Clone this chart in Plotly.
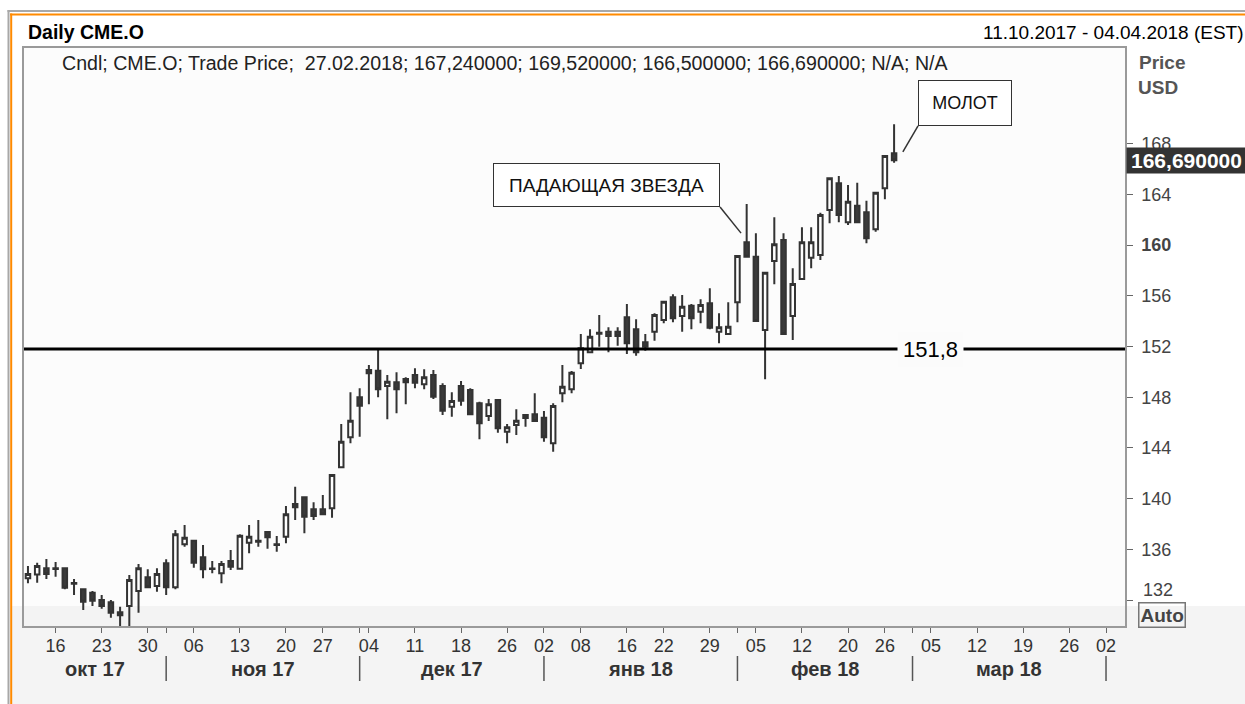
import pandas as pd
import plotly.graph_objects as go

# trading calendar on the axis (exchange holidays removed)
holidays = ["2017-11-23", "2017-12-25", "2018-01-01", "2018-01-15", "2018-02-19", "2018-03-30"]
days = [d.strftime("%Y-%m-%d") for d in pd.bdate_range("2017-10-11", "2018-04-04")]
days = [d for d in days if d not in holidays]
day_pos = {d: i for i, d in enumerate(days)}

# daily candles CME.O, 11.10.2017 - 27.02.2018
dates = days[:95]
opens = [133.72, 134.03, 134.51, 134.52, 134.51, 133.35, 132.85, 132.58, 132.01, 131.83,
         131.04, 131.53, 132.72, 133.80, 133.11, 134.90, 133.01, 136.40, 136.68, 135.38,
         134.50, 134.11, 135.08, 134.48, 136.53, 136.68, 137.37, 136.40, 137.00, 139.58,
         140.11, 139.16, 139.16, 139.24, 142.47, 144.84, 147.99, 150.15, 150.09, 148.88,
         149.18, 149.44, 149.75, 149.02, 149.75, 148.88, 147.25, 148.88, 148.57, 147.52,
         146.52, 147.78, 145.28, 145.81, 146.60, 146.65, 146.38, 144.37, 148.31, 148.62,
         150.68, 151.54, 153.08, 153.17, 153.17, 154.30, 153.36, 152.33, 153.17, 154.09,
         155.88, 154.41, 155.22, 154.74, 155.41, 153.17, 152.99, 155.49, 160.22, 159.08,
         153.30, 158.74, 160.40, 154.41, 157.32, 159.00, 159.22, 162.77, 164.87, 161.79,
         163.10, 162.58, 161.24, 164.48, 167.24]
highs = [134.69, 134.95, 135.24, 135.00, 134.55, 133.66, 132.90, 132.72, 132.40, 132.01,
         131.48, 133.98, 134.85, 134.43, 134.51, 135.22, 137.53, 137.92, 136.75, 136.35,
         135.08, 135.08, 135.95, 137.19, 137.92, 138.32, 137.40, 137.06, 139.42, 140.94,
         140.15, 139.71, 140.29, 141.95, 145.89, 148.39, 148.70, 150.54, 151.78, 149.75,
         149.97, 149.57, 150.28, 150.20, 150.15, 149.10, 148.39, 149.28, 148.70, 147.65,
         147.86, 147.85, 145.89, 147.05, 146.62, 148.31, 146.91, 147.52, 150.54, 150.07,
         152.99, 153.36, 154.48, 153.51, 153.51, 155.35, 154.15, 152.99, 154.62, 155.60,
         156.12, 156.06, 155.35, 155.72, 156.59, 154.62, 155.49, 159.20, 163.24, 160.93,
         157.85, 162.19, 160.93, 158.17, 161.40, 161.40, 162.55, 165.30, 165.45, 164.74,
         164.92, 163.50, 164.15, 167.10, 169.52]
lows = [133.33, 133.37, 133.66, 133.85, 132.85, 132.40, 131.22, 131.53, 131.32, 130.61,
        129.70, 129.70, 131.00, 132.95, 132.67, 132.40, 132.85, 136.21, 134.56, 133.72,
        134.11, 133.33, 134.37, 134.43, 135.69, 136.21, 136.05, 135.82, 136.48, 138.32,
        137.27, 138.32, 138.74, 138.50, 142.40, 144.37, 144.89, 147.44, 147.99, 146.26,
        146.73, 147.44, 148.70, 148.62, 147.86, 146.60, 146.46, 147.33, 146.60, 144.68,
        146.12, 145.20, 144.37, 145.02, 145.68, 146.10, 144.49, 143.70, 147.60, 148.31,
        150.23, 151.46, 151.98, 151.54, 152.06, 151.41, 151.27, 151.67, 152.46, 153.83,
        153.91, 153.17, 153.36, 153.83, 153.36, 152.25, 152.95, 153.91, 159.05, 153.95,
        149.41, 156.91, 152.95, 152.51, 157.30, 158.17, 158.82, 161.72, 161.79, 161.58,
        161.75, 160.14, 161.05, 163.61, 166.50]
closes = [134.06, 134.69, 134.06, 134.46, 132.98, 133.30, 131.87, 131.95, 131.53, 131.00,
          130.80, 133.58, 134.51, 133.01, 134.06, 133.01, 137.19, 136.92, 134.95, 134.43,
          134.45, 134.85, 134.63, 137.08, 137.00, 136.60, 136.95, 136.35, 138.77, 139.32,
          138.58, 138.63, 138.77, 141.87, 144.49, 146.15, 147.33, 149.89, 148.62, 149.22,
          148.62, 149.18, 149.15, 149.57, 148.04, 146.94, 147.70, 147.73, 146.65, 145.94,
          147.44, 145.55, 145.63, 146.15, 146.36, 146.12, 144.84, 147.31, 148.83, 149.93,
          151.86, 152.77, 153.00, 152.83, 152.83, 152.25, 151.54, 151.98, 154.48, 155.53,
          154.22, 155.14, 154.22, 155.27, 153.48, 153.51, 153.56, 159.14, 159.08, 154.01,
          157.82, 160.06, 152.99, 156.93, 160.22, 160.22, 162.37, 165.27, 162.37, 163.42,
          161.79, 160.53, 164.13, 167.02, 166.69]

tick_dates = ["2017-10-16", "2017-10-23", "2017-10-30", "2017-11-06", "2017-11-13",
              "2017-11-20", "2017-11-27", "2017-12-04", "2017-12-11", "2017-12-18",
              "2017-12-26", "2018-01-02", "2018-01-08", "2018-01-16", "2018-01-22",
              "2018-01-29", "2018-02-05", "2018-02-12", "2018-02-20", "2018-02-26",
              "2018-03-05", "2018-03-12", "2018-03-19", "2018-03-26", "2018-04-02"]
month_starts = ["2017-11-01", "2017-12-01", "2018-01-02", "2018-02-01", "2018-03-01", "2018-04-02"]
month_labels = ["окт 17", "ноя 17", "дек 17", "янв 18", "фев 18", "мар 18"]
y_ticks = [132, 136, 140, 144, 148, 152, 156, 160, 164, 168]

level = 151.8

# page geometry (pixels) -> paper coordinates
W, H = 1245, 704
L, R, T, B = 24, 1125, 48, 626
x_range = [-0.43, 119.06]
y_range = [129.96, 175.54]


def px(x):
    return (x - L) / (R - L)


def py(y):
    return (B - y) / (B - T)


FONT = "Liberation Sans"

fig = go.Figure()
fig.add_trace(go.Candlestick(
    x=[day_pos[d] for d in dates], open=opens, high=highs, low=lows, close=closes,
    increasing=dict(line=dict(color="#333333", width=2), fillcolor="#ffffff"),
    decreasing=dict(line=dict(color="#333333", width=2), fillcolor="#3a3a3a"),
    whiskerwidth=0, hoverinfo="skip", showlegend=False,
))

# ticks: weekly labels + unlabeled month boundary ticks
tickvals, ticktext = [], []
for d in tick_dates:
    tickvals.append(day_pos[d])
    ticktext.append(d[8:10])
for d in month_starts:
    if day_pos[d] not in tickvals:
        tickvals.append(day_pos[d])
        ticktext.append("")

# y labels: 160 in bold, the lowest one is lifted above the "Auto" box
y_text = []
for v in y_ticks:
    if v == y_ticks[0]:
        y_text.append("")
    elif v == 160:
        y_text.append(f"<b>{v}</b>")
    else:
        y_text.append(str(v))

shapes = []
annotations = []

# background pieces and the orange panel frame
shapes.append(dict(type="rect", xref="paper", yref="paper", x0=px(12), x1=px(W), y0=py(H), y1=py(606),
                   fillcolor="#f4f4f4", line=dict(width=0), layer="below"))
shapes.append(dict(type="rect", xref="x domain", yref="y domain", x0=0, x1=1, y0=0, y1=py(606),
                   fillcolor="#f3f3f3", line=dict(width=0), layer="below"))
shapes.append(dict(type="line", xref="paper", yref="paper", x0=px(7.5), x1=px(W), y0=py(11), y1=py(11),
                   line=dict(color="#a8a8a8", width=2)))
shapes.append(dict(type="line", xref="paper", yref="paper", x0=px(8.5), x1=px(8.5), y0=py(10), y1=py(H),
                   line=dict(color="#a8a8a8", width=2)))
shapes.append(dict(type="line", xref="paper", yref="paper", x0=px(10), x1=px(W), y0=py(14.5), y1=py(14.5),
                   line=dict(color="#ff8a00", width=2)))
shapes.append(dict(type="line", xref="paper", yref="paper", x0=px(11.2), x1=px(11.2), y0=py(13.5), y1=py(H),
                   line=dict(color="#ff8a00", width=2)))

# resistance level
shapes.append(dict(type="line", xref="x domain", yref="y", x0=0, x1=1, y0=level, y1=level,
                   line=dict(color="#000000", width=3)))
annotations.append(dict(x=97.9, y=level, xref="x", yref="y", text=f"{level}".replace(".", ","),
                        showarrow=False, font=dict(size=22, color="#000000"),
                        bgcolor="#fbfbfb", borderpad=5))

# month separators and labels
bounds = [x_range[0]] + [day_pos[d] for d in month_starts]
for d in month_starts:
    shapes.append(dict(type="line", xref="x", yref="paper", x0=day_pos[d], x1=day_pos[d],
                       y0=py(656), y1=py(681), line=dict(color="#555555", width=1.5)))
for i, lab in enumerate(month_labels):
    annotations.append(dict(x=(bounds[i] + bounds[i + 1]) / 2, y=py(669), xref="x", yref="paper",
                            yanchor="middle", text=f"<b>{lab}</b>", showarrow=False,
                            font=dict(size=20, color="#333333")))

# candle pattern callouts
star_x, star_y = 75.11, 163.0
shapes.append(dict(type="line", xref="x", yref="y", x0=star_x, y0=star_y, x1=77.39, y1=160.94,
                   line=dict(color="#333333", width=1.5)))
annotations.append(dict(x=star_x, y=star_y, xref="x", yref="y", xanchor="right", yanchor="bottom",
                        text="ПАДАЮЩАЯ ЗВЕЗДА", showarrow=False, font=dict(size=19, color="#111111"),
                        width=209, height=26, bgcolor="#ffffff", bordercolor="#333333",
                        borderwidth=1, borderpad=8))
ham_x, ham_y = 96.6, 169.39
shapes.append(dict(type="line", xref="x", yref="y", x0=ham_x, y0=ham_y, x1=94.95, y1=167.34,
                   line=dict(color="#333333", width=1.5)))
annotations.append(dict(x=ham_x, y=ham_y, xref="x", yref="y", xanchor="left", yanchor="bottom",
                        text="МОЛОТ", showarrow=False, font=dict(size=18, color="#111111"),
                        width=76, height=28, bgcolor="#ffffff", bordercolor="#333333",
                        borderwidth=1, borderpad=8))

# header texts
annotations.append(dict(x=px(26), y=py(32), xref="paper", yref="paper", xanchor="left", yanchor="middle",
                        text="<b>Daily CME.O</b>", showarrow=False, font=dict(size=19.5, color="#000000")))
annotations.append(dict(x=px(1246), y=py(32), xref="paper", yref="paper", xanchor="right", yanchor="middle",
                        text=f"{pd.Timestamp(days[0]):%d.%m.%Y} - {pd.Timestamp(days[-1]):%d.%m.%Y} (EST)",
                        showarrow=False, font=dict(size=19, color="#000000")))


def fmt(v):
    return f"{v:.6f}".replace(".", ",")


last = pd.Timestamp(dates[-1])
info = (f"Cndl; CME.O; Trade Price;  {last:%d.%m.%Y}; {fmt(opens[-1])}; {fmt(highs[-1])}; "
        f"{fmt(lows[-1])}; {fmt(closes[-1])}; N/A; N/A")
annotations.append(dict(x=px(60), y=py(63), xref="paper", yref="paper", xanchor="left", yanchor="middle",
                        text=info, showarrow=False, font=dict(size=19.6, color="#222222")))
annotations.append(dict(x=px(1137), y=py(62), xref="paper", yref="paper", xanchor="left", yanchor="middle",
                        text="<b>Price</b>", showarrow=False, font=dict(size=19, color="#555555")))
annotations.append(dict(x=px(1136), y=py(87), xref="paper", yref="paper", xanchor="left", yanchor="middle",
                        text="<b>USD</b>", showarrow=False, font=dict(size=19, color="#555555")))
annotations.append(dict(x=px(1126), y=closes[-1], xref="paper", yref="y", xanchor="left", yanchor="middle",
                        text=f"<b>{fmt(closes[-1])}</b>", showarrow=False, width=117, align="center",
                        font=dict(size=21, color="#ffffff"), bgcolor="#333333", borderpad=1))
annotations.append(dict(x=px(1141), y=py(590), xref="paper", yref="paper", xanchor="left", yanchor="middle",
                        text=str(y_ticks[0]), showarrow=False, font=dict(size=18, color="#444444")))
annotations.append(dict(x=px(1138), y=py(615), xref="paper", yref="paper", xanchor="left", yanchor="middle",
                        text="<b>Auto</b>", showarrow=False, font=dict(size=19, color="#444444"),
                        bordercolor="#777777", borderwidth=1.5, borderpad=1))

fig.update_layout(
    width=W, height=H,
    margin=dict(l=L, r=W - R, t=T, b=H - B),
    paper_bgcolor="#ffffff", plot_bgcolor="#fcfcfc",
    font=dict(family=FONT, color="#333333"),
    shapes=shapes, annotations=annotations,
    xaxis=dict(type="linear", range=x_range, tickvals=tickvals, ticktext=ticktext,
               ticks="outside", ticklen=5, tickcolor="#666666", tickwidth=1,
               tickfont=dict(size=18, color="#333333"), ticklabelstandoff=-2,
               showgrid=False, zeroline=False, showline=True, linecolor="#9a9a9a",
               linewidth=1.5, mirror=True, rangeslider=dict(visible=False), fixedrange=True),
    yaxis=dict(side="right", range=y_range, tickvals=y_ticks, ticktext=y_text,
               ticks="outside", ticklen=6, tickcolor="#666666", tickwidth=1,
               tickfont=dict(size=18, color="#444444"), ticklabelstandoff=5,
               showgrid=False, zeroline=False, showline=True, linecolor="#9a9a9a",
               linewidth=1.5, mirror=True, fixedrange=True),
)

fig.write_html("out.html", config={"displayModeBar": False},
               post_script="document.body.style.margin='0';document.body.style.overflow='hidden';")
